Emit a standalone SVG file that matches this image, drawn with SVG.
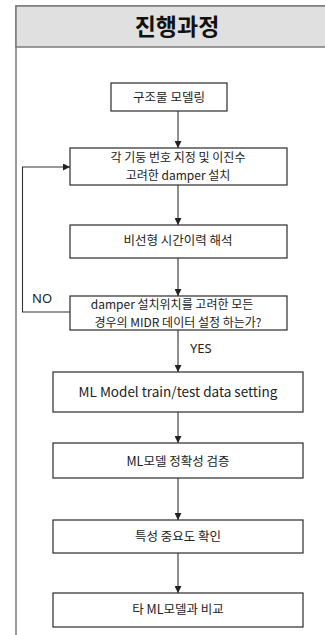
<svg xmlns="http://www.w3.org/2000/svg" width="325" height="635" viewBox="0 0 325 635">
<defs>
<marker id="ah" viewBox="0 0 10 10" refX="10" refY="5" markerWidth="7" markerHeight="7" orient="auto" markerUnits="userSpaceOnUse">
<path d="M0,0 L10,5 L0,10 z" fill="#222"/>
</marker>
<style>
.frame{fill:#fff;stroke:#7a7a7a;stroke-width:1.5}
.head{fill:#e0e0e0;stroke:#7a7a7a;stroke-width:1.5}
.box{fill:#fff;stroke:#2a2a2a;stroke-width:1.2}
.t{font-family:"Noto Sans CJK KR","Noto Sans",sans-serif;font-size:12.5px;fill:#222;text-anchor:middle}
.t2{font-family:"Noto Sans CJK KR","Noto Sans",sans-serif;font-size:12px;fill:#222;text-anchor:middle}
.ht{font-family:"Noto Sans CJK KR",sans-serif;font-size:23px;font-weight:bold;fill:#111;text-anchor:middle}
.lbl{font-family:"Noto Sans","Noto Sans CJK KR",sans-serif;font-size:13px;fill:#222}
.c{fill:none;stroke:#333;stroke-width:1.1;marker-end:url(#ah)}
</style>
</defs>
<rect class="frame" x="16" y="6" width="320" height="640"/>
<g id="header">
<rect class="head" x="16" y="6" width="320" height="41"/>
<text class="ht" x="177" y="35">진행과정</text>
</g>
<g id="connectors">
<line class="c" x1="178" y1="111" x2="178" y2="148"/>
<line class="c" x1="178" y1="185" x2="178" y2="225"/>
<line class="c" x1="178" y1="258" x2="178" y2="296"/>
<polyline class="c" points="70,312 22.5,312 22.5,167 70,167"/>
<line class="c" x1="178" y1="330" x2="178" y2="372"/>
<line class="c" x1="178" y1="412" x2="178" y2="443"/>
<line class="c" x1="178" y1="478" x2="178" y2="520"/>
<line class="c" x1="178" y1="553" x2="178" y2="593"/>
<text class="lbl" x="32" y="303">NO</text>
<text class="lbl" x="190" y="353">YES</text>
</g>
<g id="n1">
<rect class="box" x="111" y="83" width="116" height="28"/>
<text class="t" x="169" y="102">구조물 모델링</text>
</g>
<g id="n2">
<rect class="box" x="70" y="148" width="217" height="37"/>
<text class="t2" x="178" y="162">각 기둥 번호 지정 및 이진수</text>
<text class="t2" x="178" y="179.5">고려한 damper 설치</text>
</g>
<g id="n3">
<rect class="box" x="70" y="225" width="217" height="33"/>
<text class="t" x="178" y="245">비선형 시간이력 해석</text>
</g>
<g id="n4">
<rect class="box" x="70" y="296" width="217" height="34"/>
<text class="t2" x="172" y="309">damper 설치위치를 고려한 모든</text>
<text class="t2" x="178" y="326.5">경우의 MIDR  데이터 설정 하는가?</text>
</g>
<g id="n5">
<rect class="box" x="53" y="372" width="250" height="40"/>
<text class="t" x="178" y="397" style="font-size:13.5px">ML Model train/test data setting</text>
</g>
<g id="n6">
<rect class="box" x="53" y="443" width="250" height="35"/>
<text class="t" x="178" y="466">ML모델 정확성 검증</text>
</g>
<g id="n7">
<rect class="box" x="53" y="520" width="250" height="33"/>
<text class="t" x="178" y="541">특성 중요도 확인</text>
</g>
<g id="n8">
<rect class="box" x="53" y="593" width="250" height="34"/>
<text class="t" x="178" y="614">타 ML모델과 비교</text>
</g>
</svg>
